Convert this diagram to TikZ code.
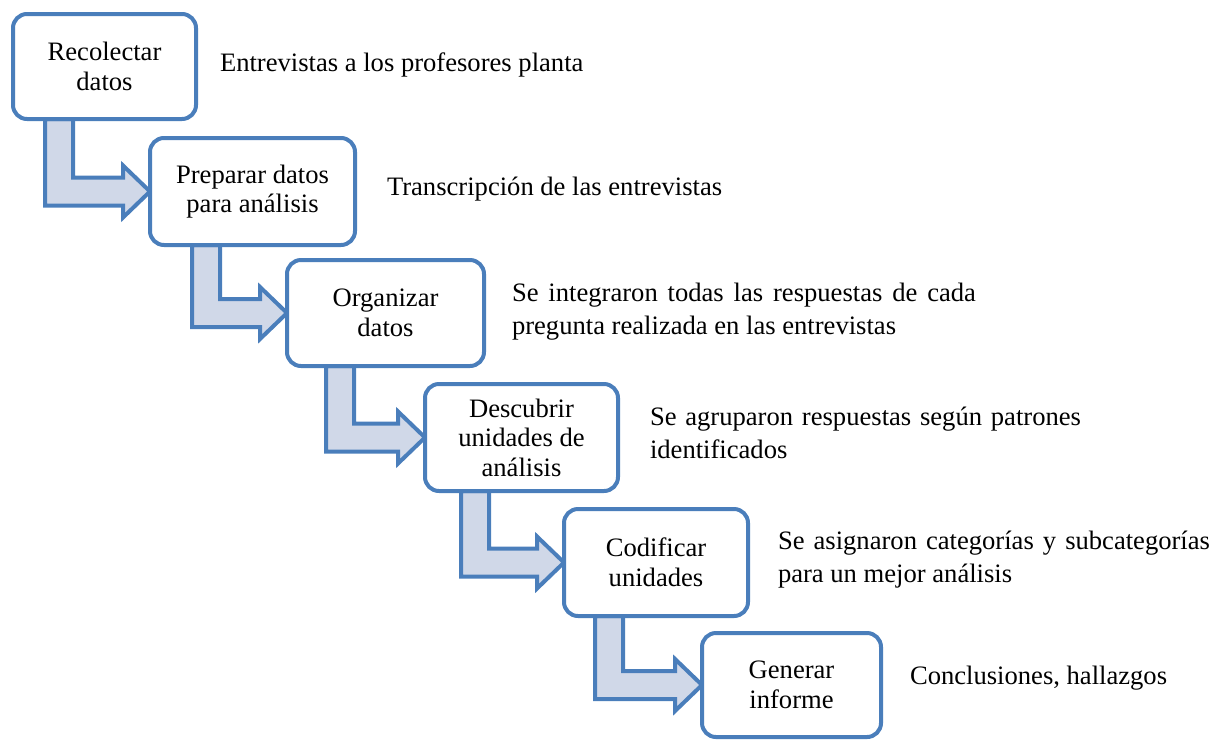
\documentclass[tikz,border=0pt]{standalone}
\usepackage{fontspec}
\setmainfont{LiberationSerif-Regular.ttf}
\usetikzlibrary{calc}
\pgfdeclarelayer{bg}
\pgfsetlayers{bg,main}
\definecolor{bord}{RGB}{74,126,187}
\definecolor{arrfill}{RGB}{208,216,232}
\tikzset{
 stepbox/.style={draw=bord, line width=4pt, fill=white, rounded corners=14pt, inner sep=0pt, outer sep=0pt, align=center, font=\fontsize{26.6}{29.5}\selectfont},
 bentarr/.style={draw=bord, line width=4pt, fill=arrfill, line join=miter},
 note/.style={anchor=base west, inner sep=0pt, outer sep=0pt, font=\fontsize{26.6}{33}\selectfont}
}
\newcommand{\bentarrow}[3]{%
 \begin{pgfonlayer}{bg}
 \draw[bentarr] let \p1=(#1.south), \p2=(#2.west) in
 (#3pt,\y1) -- (#3pt,\y2-14pt) -- (\x2-27pt,\y2-14pt) -- (\x2-27pt,\y2-26pt) -- (\x2,\y2) -- (\x2-27pt,\y2+26pt) -- (\x2-27pt,\y2+14pt) -- (#3pt+28pt,\y2+14pt) -- (#3pt+28pt,\y1) -- cycle;
 \end{pgfonlayer}}
\begin{document}
\begin{tikzpicture}[x=1pt,y=-1pt]
\useasboundingbox (0,0) rectangle (1222,740);
\node[stepbox, minimum width=183pt, minimum height=105pt] (b1) at (104.5,66.5) {Recolectar\\datos};
\node[stepbox, minimum width=205pt, minimum height=107pt] (b2) at (252.5,191.5) {Preparar datos\\para análisis};
\node[stepbox, minimum width=197pt, minimum height=106pt] (b3) at (385.5,313) {Organizar\\datos};
\node[stepbox, minimum width=193pt, minimum height=107pt] (b4) at (521.5,437.5) {Descubrir\\unidades de\\análisis};
\node[stepbox, minimum width=184pt, minimum height=107pt] (b5) at (656,562.5) {Codificar\\unidades};
\node[stepbox, minimum width=179pt, minimum height=104pt] (b6) at (791.5,685) {Generar\\informe};
\bentarrow{b1}{b2}{45}
\bentarrow{b2}{b3}{192}
\bentarrow{b3}{b4}{326}
\bentarrow{b4}{b5}{461}
\bentarrow{b5}{b6}{595}
\node[note] (n1) at (220,71) {Entrevistas a los profesores planta};
\node[note] (n2) at (387,195) {Transcripción de las entrevistas};
\node[note] (n3a) at (512,301) {\makebox[464pt][s]{Se integraron todas las respuestas de cada}};
\node[note] (n3b) at (512,334) {pregunta realizada en las entrevistas};
\node[note] (n4a) at (650,425) {\makebox[431pt][s]{Se agruparon respuestas según patrones}};
\node[note] (n4b) at (650,458) {identificados};
\node[note] (n5a) at (778,549) {\makebox[432pt][s]{Se asignaron categorías y subcategorías}};
\node[note] (n5b) at (778,582) {para un mejor análisis};
\node[note] (n6) at (910,684) {Conclusiones, hallazgos};
\end{tikzpicture}
\end{document}
